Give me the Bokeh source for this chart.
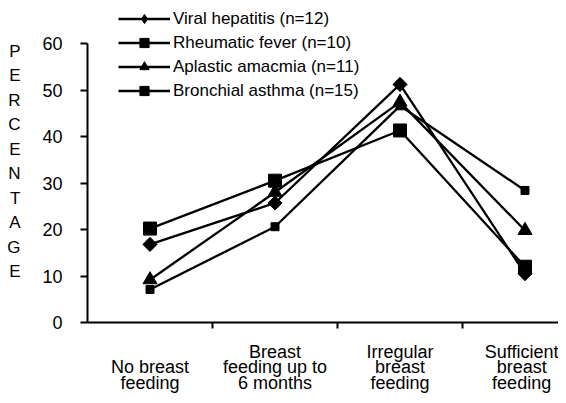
import math
from bokeh.plotting import figure
from bokeh.models import Range1d, FixedTicker, Legend, LegendItem
from bokeh.embed import file_html
from bokeh.resources import INLINE

# ---- data ----
categories = ["\nNo breast\nfeeding", "Breast\nfeeding up to\n6 months",
              "Irregular\nbreast\nfeeding", "Sufficient\nbreast\nfeeding"]
series_names = ["Viral hepatitis (n=12)", "Rheumatic fever (n=10)",
                "Aplastic amacmia (n=11)", "Bronchial asthma (n=15)"]
viral = [16.8, 25.7, 51.2, 10.5]
rheumatic = [20.2, 30.5, 41.3, 12.0]
aplastic = [9.2, 28.0, 47.4, 19.8]
bronchial = [7.1, 20.6, 46.6, 28.4]
y_ticks = [0, 10, 20, 30, 40, 50, 60]
y_title = "PERCENTAGE"

# ---- layout ----
W, H = 558, 395
LEFT, TOP = 87, 0
FRAME_BOTTOM = 322
BOTTOM = H - FRAME_BOTTOM
frame_w = W - LEFT
frame_h = FRAME_BOTTOM - TOP
cat_w = 125.0
ppu = 279.0 / 60.0
x_end = frame_w / cat_w
y_end = frame_h / ppu

FONT = "Liberation Sans"

p = figure(width=W, height=H, output_backend="svg", toolbar_location=None,
           x_range=Range1d(0, x_end), y_range=Range1d(0, y_end),
           frame_width=frame_w, frame_height=frame_h,
           min_border_left=LEFT, min_border_right=0, min_border_top=TOP,
           min_border_bottom=BOTTOM, background_fill_color="white",
           border_fill_color="white", outline_line_color=None)
p.grid.visible = False

xs = [i + 0.5 for i in range(len(categories))]

# y axis
yax = p.yaxis[0]
yax.ticker = FixedTicker(ticks=y_ticks)
yax.bounds = (0, 60)
yax.axis_line_width = 2
yax.axis_line_color = "black"
yax.major_tick_line_width = 2
yax.major_tick_out = 7
yax.major_tick_in = 0
yax.minor_tick_out = 0
yax.minor_tick_in = 0
yax.major_label_standoff = 18
yax.major_label_text_font = FONT
yax.major_label_text_font_size = "18px"
yax.major_label_text_color = "black"
yax.axis_label = "\n".join(y_title)
yax.axis_label_orientation = "horizontal"
yax.axis_label_text_font = FONT
yax.axis_label_text_font_size = "17px"
yax.axis_label_text_font_style = "normal"
yax.axis_label_text_color = "black"
yax.axis_label_text_line_height = 1.29
yax.axis_label_text_align = "center"
yax.axis_label_standoff = 19

# x axis: labels at category centres, ticks at boundaries (minor ticks)
xax = p.xaxis[0]
xax.ticker = FixedTicker(ticks=xs, minor_ticks=[1, 2, 3])
xax.axis_line_width = 2
xax.axis_line_color = "black"
xax.major_tick_out = 0
xax.major_tick_in = 0
xax.minor_tick_line_width = 2
xax.minor_tick_line_color = "black"
xax.minor_tick_out = 6
xax.minor_tick_in = 0
xax.major_label_overrides = {x: c for x, c in zip(xs, categories)}
xax.major_label_text_font = FONT
xax.major_label_text_font_size = "18px"
xax.major_label_text_color = "black"
xax.major_label_text_line_height = 0.78
xax.major_label_standoff = 13

lines = []
for vals in [viral, rheumatic, aplastic, bronchial]:
    lines.append(p.line(xs, vals, line_color="black", line_width=2.3))

mk_viral_legend = p.scatter(xs, viral, marker="diamond", size=8,
                            fill_color="black", line_color="black")
p.scatter(xs, viral, marker="square", size=10, angle=math.pi / 4,
          fill_color="black", line_color="black")
mk_rheum = p.scatter(xs, rheumatic, marker="square", size=13,
                     fill_color="black", line_color="black")
mk_aplas = p.scatter(xs, aplastic, marker="triangle", size=14,
                     fill_color="black", line_color="black")
mk_bronc = p.scatter(xs, bronchial, marker="square", size=8,
                     fill_color="black", line_color="black")

markers = [mk_viral_legend, mk_rheum, mk_aplas, mk_bronc]
items = [LegendItem(label=n, renderers=[l, m])
         for n, l, m in zip(series_names, lines, markers)]

legend = Legend(items=items, location=(31, frame_h - 102),
                glyph_width=52, glyph_height=23, label_height=23,
                label_standoff=3, spacing=1, padding=0, margin=0,
                border_line_color=None, background_fill_alpha=0,
                label_text_font=FONT, label_text_font_size="17px",
                label_text_color="black")
p.add_layout(legend, "center")

open("out.html", "w").write(file_html(p, INLINE))
